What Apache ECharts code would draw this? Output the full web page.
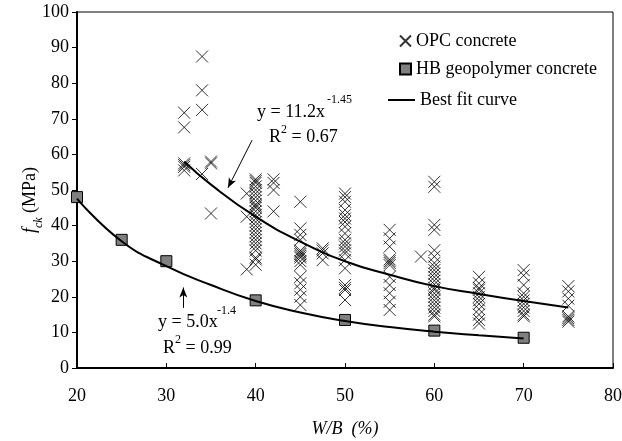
<!DOCTYPE html>
<html lang="en">

<head>
    <meta charset="UTF-8">
    <title>fck vs W/B</title>
    <script src="https://cdn.jsdelivr.net/npm/echarts/dist/echarts.min.js"></script>
    <style>
        html, body { margin: 0; padding: 0; background: #fff; }
        #chart { width: 622px; height: 441px; }
    </style>
</head>

<body>
    <div id="chart"></div>

    <script>
        // OPC concrete: W/B group -> fck values
        const opcWB = [32, 34, 35, 39, 40, 42, 45, 47.5, 50, 55, 58.5, 60, 65, 70, 75];
        const opcFck = [
            [71.7, 67.6, 57.5, 56.5, 55.5, 57],
            [87.5, 78, 72.5, 54.5],
            [58, 57.5, 43.4],
            [49, 42.5, 27.7],
            [53, 52.5, 52, 51, 50, 49, 48, 47, 46, 45.5, 45, 44, 43, 42, 41, 40, 39, 38, 37, 36, 35, 34, 33, 31, 30.5, 29],
            [53, 52, 50, 44],
            [46.7, 39.2, 37.4, 36, 33, 32.5, 32, 31.5, 31, 30, 29, 25.6, 23.8, 22, 20, 17.7],
            [33.6, 33, 32.2, 30.3],
            [49, 48, 46.7, 44.4, 43, 42, 41, 39.7, 37.8, 36, 35, 34.1, 33, 32.2, 30.3, 28, 23.3, 22.5, 21.9, 19.1],
            [38.8, 36.4, 34.1, 30.5, 30, 29.5, 28.9, 25.6, 23.3, 21, 18.6, 16.3],
            [31.3],
            [52.3, 50.9, 40.2, 38.8, 33.1, 31.3, 29.5, 28.5, 27.5, 26.5, 25.5, 24.5, 23.5, 22.5, 22, 21, 20, 19, 18, 17, 16, 15, 14.5],
            [25.6, 23.8, 22.5, 22, 21, 20, 19, 18, 16.5, 15, 13.5, 12.5],
            [27.5, 26, 23.3, 21, 20, 19, 18, 17, 16, 15, 14.5],
            [23, 21.5, 19.5, 17.5, 14.5, 14, 13.5, 13]
        ];

        // HB geopolymer concrete
        const hbWB = [20, 25, 30, 40, 50, 60, 70];
        const hbFck = [48, 36, 30, 19, 13.5, 10.5, 8.5];

        // best fit curves
        const opcFitWB = [32, 35, 40, 45, 50, 55, 60, 65, 70, 75];
        const opcFitFck = [58, 51.5, 42.5, 35.5, 30, 26.2, 23, 20.8, 18.8, 17];
        const hbFitWB = [20, 25, 30, 35, 40, 45, 50, 55, 60, 65, 70];
        const hbFitFck = [47.6, 35.6, 28.6, 23.3, 18.8, 15.6, 13.2, 11.5, 10.2, 9.2, 8.3];

        const xTicks = [20, 30, 40, 50, 60, 70, 80];
        const yTicks = [0, 10, 20, 30, 40, 50, 60, 70, 80, 90, 100];

        const FONT = '"Liberation Serif", "Times New Roman", serif';
        const CROSS = 'path://M0,0L10,10M10,0L0,10';

        const opcData = [];
        opcWB.forEach((w, i) => {
            opcFck[i].forEach(v => opcData.push([w, v]));
        });
        const hbData = hbWB.map((w, i) => [w, hbFck[i]]);
        const opcFit = opcFitWB.map((w, i) => [w, opcFitFck[i]]);
        const hbFit = hbFitWB.map((w, i) => [w, hbFitFck[i]]);

        const chart = echarts.init(document.getElementById('chart'));

        const txt = (left, top, text, size) => ({
            type: 'text', left: left, top: top, z: 100,
            style: { text: text, font: size + 'px ' + FONT, fill: '#000' }
        });

        chart.setOption({
            animation: false,
            backgroundColor: '#fff',
            grid: {
                left: 77, top: 12, right: 9, bottom: 73,
                outerBoundsMode: 'none',
                containLabel: false,
                show: true, borderColor: '#000', borderWidth: 1
            },
            legend: [{
                data: ['OPC concrete', 'HB geopolymer concrete'],
                orient: 'vertical',
                left: 399, top: 32, padding: 0,
                itemWidth: 11, itemHeight: 11, itemGap: 10,
                textStyle: { fontFamily: FONT, fontSize: 18, color: '#000' }
            }, {
                data: [{ name: 'Best fit curve', icon: 'rect' }],
                left: 388, top: 91, padding: 0,
                itemWidth: 27, itemHeight: 2,
                textStyle: { fontFamily: FONT, fontSize: 18, color: '#000' }
            }],
            xAxis: {
                type: 'value', min: 20, max: 80, interval: 10,
                name: 'W/B  (%)',
                nameLocation: 'middle', nameGap: 52,
                nameTextStyle: { fontFamily: FONT, fontSize: 18, fontStyle: 'italic', color: '#000' },
                axisLine: { lineStyle: { color: '#000', width: 2 } },
                axisTick: { inside: true, length: 5, lineStyle: { color: '#000' } },
                axisLabel: {
                    fontFamily: FONT, fontSize: 18, color: '#000', margin: 19,
                    formatter: v => xTicks.includes(v) ? String(v) : ''
                },
                splitLine: { show: false }
            },
            yAxis: {
                type: 'value', min: 0, max: 100, interval: 10,
                axisLine: { show: true, lineStyle: { color: '#000', width: 2 } },
                axisTick: { show: true, length: 5, lineStyle: { color: '#000' } },
                axisLabel: {
                    fontFamily: FONT, fontSize: 18, color: '#000', margin: 8,
                    formatter: v => yTicks.includes(v) ? String(v) : ''
                },
                splitLine: { show: false }
            },
            series: [{
                name: 'OPC concrete',
                type: 'scatter',
                symbol: CROSS,
                symbolSize: 12,
                itemStyle: { color: 'transparent', borderColor: '#000', borderWidth: 1 },
                data: opcData,
                z: 3
            }, {
                name: 'HB geopolymer concrete',
                type: 'scatter',
                symbol: 'rect',
                symbolSize: 11,
                itemStyle: { color: '#808080', borderColor: '#000', borderWidth: 1, opacity: 1 },
                data: hbData,
                z: 4
            }, {
                name: 'Best fit curve',
                type: 'line',
                smooth: true,
                symbol: 'none',
                showSymbol: false,
                lineStyle: { color: '#000', width: 2 },
                itemStyle: { color: '#000' },
                data: opcFit,
                z: 5,
                markLine: {
                    silent: true,
                    symbol: ['none', 'arrow'],
                    symbolSize: [6, 10],
                    label: { show: false },
                    lineStyle: { color: '#000', width: 1, type: 'solid' },
                    data: [
                        [{ coord: [39.6, 64] }, { coord: [36.9, 50.6] }],
                        [{ coord: [31.9, 16.9] }, { coord: [31.9, 22.6] }]
                    ]
                }
            }, {
                name: 'Best fit curve',
                type: 'line',
                smooth: true,
                symbol: 'none',
                showSymbol: false,
                lineStyle: { color: '#000', width: 2 },
                itemStyle: { color: '#000' },
                data: hbFit,
                z: 5
            }],
            graphic: [
                // y axis title
                {
                    type: 'text', x: 33, y: 200, rotation: Math.PI / 2, z: 100,
                    style: {
                        text: '{i|f}{s|ck}{n| (MPa)}',
                        align: 'center', verticalAlign: 'middle', fill: '#000',
                        rich: {
                            i: { fontFamily: FONT, fontSize: 18, fontStyle: 'italic', lineHeight: 24, verticalAlign: 'top' },
                            s: { fontFamily: FONT, fontSize: 12, fontStyle: 'italic', lineHeight: 24, verticalAlign: 'bottom', padding: [9, 0, 0, 0] },
                            n: { fontFamily: FONT, fontSize: 18, lineHeight: 24, verticalAlign: 'top' }
                        }
                    }
                },
                txt(257, 103, 'y = 11.2x', 18),
                txt(327, 94, '-1.45', 12),
                txt(269, 128, 'R', 18),
                txt(281, 124, '2', 12),
                txt(287, 128, ' = 0.67', 18),
                txt(158, 313, 'y = 5.0x', 18),
                txt(217, 305, '-1.4', 12),
                txt(163, 339, 'R', 18),
                txt(175, 334, '2', 12),
                txt(181, 339, ' = 0.99', 18)
            ]
        });
    </script>
</body>

</html>
